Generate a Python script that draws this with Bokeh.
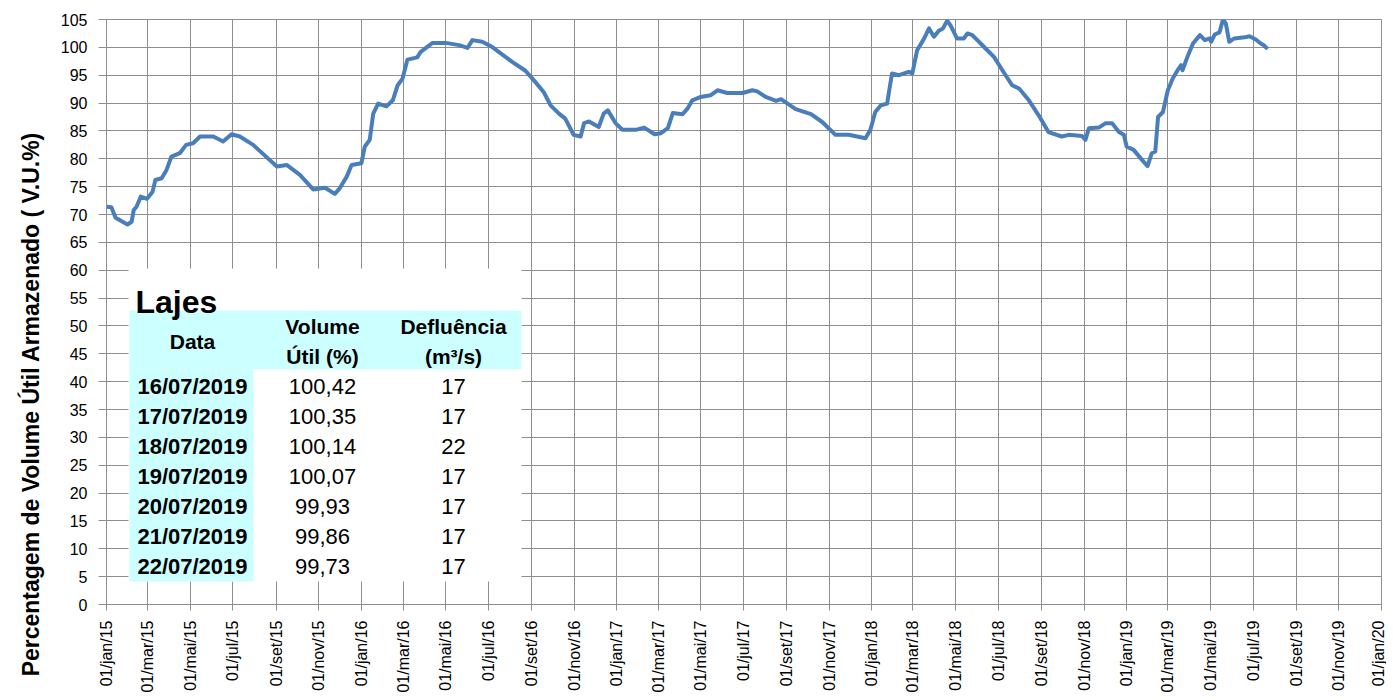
import pandas as pd
from math import pi
from bokeh.plotting import figure
from bokeh.models import FixedTicker, Label, BoxAnnotation, Range1d, ColumnDataSource, Title
from bokeh.embed import file_html
from bokeh.resources import INLINE

# ---------------- data ----------------
dates = [
    "2015-01-01", "2015-01-08", "2015-01-14", "2015-01-31", "2015-02-06", "2015-02-09", "2015-02-13",
    "2015-02-19", "2015-02-28", "2015-03-08", "2015-03-12", "2015-03-21", "2015-03-28", "2015-04-04",
    "2015-04-16", "2015-04-25", "2015-05-05", "2015-05-15", "2015-06-03", "2015-06-17", "2015-06-29",
    "2015-07-11", "2015-07-30", "2015-09-02", "2015-09-16", "2015-10-05", "2015-10-24", "2015-11-10",
    "2015-11-24", "2015-12-01", "2015-12-11", "2015-12-18", "2016-01-01", "2016-01-06", "2016-01-13",
    "2016-01-18", "2016-01-25", "2016-02-06", "2016-02-15", "2016-02-22", "2016-02-29", "2016-03-07",
    "2016-03-21", "2016-03-26", "2016-04-12", "2016-05-01", "2016-05-20", "2016-06-01", "2016-06-08",
    "2016-06-22", "2016-07-06", "2016-08-04", "2016-08-23", "2016-09-06", "2016-09-18", "2016-09-28",
    "2016-10-10", "2016-10-19", "2016-10-31", "2016-11-10", "2016-11-15", "2016-11-22", "2016-12-06",
    "2016-12-13", "2016-12-19", "2016-12-30", "2017-01-09", "2017-01-28", "2017-02-09", "2017-02-24",
    "2017-03-05", "2017-03-15", "2017-03-22", "2017-04-05", "2017-04-12", "2017-04-19", "2017-05-01",
    "2017-05-15", "2017-05-25", "2017-06-08", "2017-06-30", "2017-07-14", "2017-07-21", "2017-08-02",
    "2017-08-17", "2017-08-24", "2017-09-14", "2017-10-06", "2017-10-22", "2017-11-10", "2017-11-29",
    "2017-12-23", "2017-12-30", "2018-01-06", "2018-01-14", "2018-01-23", "2018-01-26", "2018-01-30",
    "2018-02-09", "2018-02-23", "2018-02-28", "2018-03-07", "2018-03-17", "2018-03-24", "2018-03-31",
    "2018-04-07", "2018-04-13", "2018-04-19", "2018-04-24", "2018-05-03", "2018-05-13", "2018-05-18",
    "2018-05-25", "2018-06-13", "2018-06-25", "2018-07-07", "2018-07-21", "2018-07-31", "2018-08-14",
    "2018-08-28", "2018-09-11", "2018-09-30", "2018-10-10", "2018-10-29", "2018-11-03", "2018-11-08",
    "2018-11-22", "2018-12-02", "2018-12-11", "2018-12-21", "2018-12-28", "2019-01-01", "2019-01-11",
    "2019-01-23", "2019-01-31", "2019-02-06", "2019-02-11", "2019-02-15", "2019-02-22", "2019-03-01",
    "2019-03-08", "2019-03-15", "2019-03-20", "2019-03-22", "2019-03-30", "2019-04-06", "2019-04-16",
    "2019-04-23", "2019-04-30", "2019-05-02", "2019-05-07", "2019-05-14", "2019-05-19", "2019-05-23",
    "2019-05-28", "2019-06-04", "2019-06-19", "2019-06-26", "2019-07-05", "2019-07-12",
]
volume = [
    71.4, 71.3, 69.4, 68.2, 68.7, 70.8, 71.4,
    73.2, 72.8, 74.1, 76.2, 76.5, 78.0, 80.4,
    81.0, 82.5, 82.8, 84.0, 84.0, 83.1, 84.4,
    84.0, 82.5, 78.6, 78.9, 77.1, 74.5, 74.8,
    73.7, 74.7, 76.8, 78.9, 79.2, 82.2, 83.4,
    88.1, 89.9, 89.4, 90.5, 93.2, 94.4, 97.8,
    98.2, 99.2, 100.8, 100.8, 100.4, 99.9, 101.3,
    101.0, 100.1, 97.4, 95.8, 93.8, 92.0, 89.6,
    88.1, 87.2, 84.3, 84.0, 86.4, 86.7, 85.7,
    88.1, 88.7, 86.4, 85.2, 85.2, 85.6, 84.4,
    84.6, 85.5, 88.2, 88.0, 89.0, 90.5, 91.1,
    91.4, 92.3, 91.8, 91.8, 92.3, 92.1, 91.1,
    90.4, 90.7, 88.9, 88.0, 86.6, 84.3, 84.3,
    83.7, 85.2, 88.4, 89.6, 89.9, 92.3, 95.3,
    95.0, 95.6, 95.3, 99.5, 101.6, 103.4, 101.9,
    103.0, 103.4, 104.8, 103.9, 101.6, 101.6, 102.5,
    102.2, 99.8, 98.3, 95.9, 93.2, 92.6, 90.5,
    87.8, 84.8, 84.0, 84.3, 84.1, 83.4, 85.5,
    85.6, 86.4, 86.4, 84.8, 84.3, 82.2, 81.6,
    79.8, 78.7, 81.0, 81.3, 87.5, 88.4, 92.3,
    94.4, 95.9, 96.8, 95.9, 98.6, 100.7, 102.2,
    101.3, 101.6, 101.0, 102.3, 102.7, 105.0, 104.3,
    101.0, 101.6, 101.8, 102.0, 101.4, 100.7,
]

# table (Lajes)
table_title = "Lajes"
table_headers = [["Data"], ["Volume", "Útil (%)"], ["Defluência", "(m³/s)"]]
table_dates = ["16/07/2019", "17/07/2019", "18/07/2019", "19/07/2019",
               "20/07/2019", "21/07/2019", "22/07/2019"]
table_volume = ["100,42", "100,35", "100,14", "100,07", "99,93", "99,86", "99,73"]
table_outflow = ["17", "17", "22", "17", "17", "17", "17"]

y_ticks = list(range(0, 106, 5))
x_tick_dates = ["2015-01-01", "2015-03-01", "2015-05-01", "2015-07-01", "2015-09-01", "2015-11-01",
                "2016-01-01", "2016-03-01", "2016-05-01", "2016-07-01", "2016-09-01", "2016-11-01",
                "2017-01-01", "2017-03-01", "2017-05-01", "2017-07-01", "2017-09-01", "2017-11-01",
                "2018-01-01", "2018-03-01", "2018-05-01", "2018-07-01", "2018-09-01", "2018-11-01",
                "2019-01-01", "2019-03-01", "2019-05-01", "2019-07-01", "2019-09-01", "2019-11-01",
                "2020-01-01"]
x_tick_labels = ["01/jan/15", "01/mar/15", "01/mai/15", "01/jul/15", "01/set/15", "01/nov/15",
                 "01/jan/16", "01/mar/16", "01/mai/16", "01/jul/16", "01/set/16", "01/nov/16",
                 "01/jan/17", "01/mar/17", "01/mai/17", "01/jul/17", "01/set/17", "01/nov/17",
                 "01/jan/18", "01/mar/18", "01/mai/18", "01/jul/18", "01/set/18", "01/nov/18",
                 "01/jan/19", "01/mar/19", "01/mai/19", "01/jul/19", "01/set/19", "01/nov/19",
                 "01/jan/20"]
y_title = "Percentagem de Volume Útil Armazenado  ( V.U.%)"

# ---------------- build series ----------------
all_dates = dates + [pd.to_datetime(d, format="%d/%m/%Y").strftime("%Y-%m-%d") for d in table_dates]
all_vals = volume + [float(v.replace(",", ".")) for v in table_volume]
src = ColumnDataSource(dict(x=pd.to_datetime(all_dates), y=all_vals))

GRID = "#8e8e8e"
FONT = "Liberation Sans"

p = figure(width=1386, height=695, x_axis_type="datetime",
           x_range=Range1d(pd.Timestamp("2015-01-01"), pd.Timestamp("2020-01-01")),
           y_range=Range1d(0, 105),
           output_backend="svg", toolbar_location=None,
           min_border_left=106, min_border_top=19, min_border_right=5, min_border_bottom=90)

p.line("x", "y", source=src, line_width=4, color="#4a7ebb", line_join="round")

tick_ms = [int(pd.Timestamp(d).value // 10**6) for d in x_tick_dates]
p.xaxis.ticker = FixedTicker(ticks=tick_ms)
p.xaxis.major_label_overrides = {t: l for t, l in zip(tick_ms, x_tick_labels)}
p.xaxis.major_label_orientation = pi / 2
p.yaxis.ticker = FixedTicker(ticks=y_ticks)

for ax in (p.xaxis, p.yaxis):
    ax.axis_line_color = GRID
    ax.major_tick_line_color = GRID
    ax.minor_tick_line_color = None
    ax.major_tick_in = 0
    ax.major_label_text_font = FONT
    ax.major_label_text_font_size = "16px"
    ax.major_label_text_color = "#000000"
p.yaxis.major_tick_out = 8
p.yaxis.major_label_standoff = 11
p.xaxis.major_tick_out = 6
p.xaxis.major_label_standoff = 10

p.xgrid.ticker = FixedTicker(ticks=tick_ms)
p.ygrid.ticker = FixedTicker(ticks=y_ticks)
p.grid.grid_line_color = GRID
p.grid.grid_line_width = 1
p.outline_line_color = GRID
p.background_fill_color = "white"
p.border_fill_color = "white"

# y-axis title as a side title, its upper end placed like the reference
p.add_layout(Title(text=y_title, align="right", offset=106, standoff=28,
                   text_font=FONT, text_font_style="bold", text_font_size="23px",
                   text_color="#000000"), "left")

# ---------------- table overlay ----------------
def box(l, r, b, t, color):
    p.add_layout(BoxAnnotation(left=l, right=r, bottom=b, top=t,
                               left_units="screen", right_units="screen",
                               bottom_units="screen", top_units="screen",
                               fill_color=color, fill_alpha=1, line_alpha=0))

box(22, 415, 23, 336, "white")
box(23, 415, 235, 294, "#ccffff")
box(23, 147, 23, 235, "#ccffff")

def lab(x, y, text, bold=False, size="22px", align="center", baseline="middle"):
    p.add_layout(Label(x=x, y=y, x_units="screen", y_units="screen", text=text,
                       text_align=align, text_baseline=baseline, text_font=FONT,
                       text_font_style="bold" if bold else "normal",
                       text_font_size=size, text_color="#000000"))

lab(29, 303, table_title, bold=True, size="32px", align="left", baseline="alphabetic")
col_x = [86, 216, 347]
for cx, hdr in zip(col_x, table_headers):
    if len(hdr) == 1:
        lab(cx, 263, hdr[0], bold=True, size="21px")
    else:
        lab(cx, 278, hdr[0], bold=True, size="21px")
        lab(cx, 248, hdr[1], bold=True, size="21px")
for i, (d, v, q) in enumerate(zip(table_dates, table_volume, table_outflow)):
    yy = 218 - 30 * i
    lab(col_x[0], yy, d, bold=True)
    lab(col_x[1], yy, v)
    lab(col_x[2], yy, q)

open("out.html", "w").write(file_html(p, INLINE))
